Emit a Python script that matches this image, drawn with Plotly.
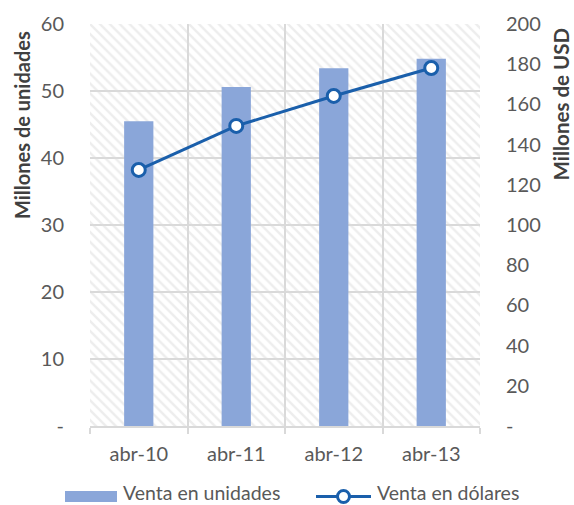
import plotly.graph_objects as go

categories = ["abr-10", "abr-11", "abr-12", "abr-13"]
units = [45.5, 50.6, 53.4, 54.8]
dollars = [127.4, 149.3, 164.2, 178.1]
left_ticks = [0, 10, 20, 30, 40, 50, 60]
left_labels = ["-", "10", "20", "30", "40", "50", "60"]
right_ticks = [0, 20, 40, 60, 80, 100, 120, 140, 160, 180, 200]
right_labels = ["-"] + [str(v) for v in right_ticks[1:]]
series_names = ["Venta en unidades", "Venta en dólares"]

FONT = "Lato"
GRID = "#d9d9d9"
TEXT = "#595959"
TITLE = "#404040"
BAR = "#8aa6d9"
LINE = "#1a5fab"

W, H = 574, 505
ML, MR, MT, MB = 90, 94, 24, 79
PW, PH = W - ML - MR, H - MT - MB


def px(x):
    return (x - ML) / PW


def py(y):
    return (H - MB - y) / PH


xpos = list(range(len(categories)))

fig = go.Figure()
# hatched plot-area background
fig.add_trace(go.Bar(
    x=[(len(categories) - 1) / 2], y=[max(left_ticks)], width=[len(categories)],
    marker=dict(color="rgba(0,0,0,0)", line=dict(width=0),
                pattern=dict(shape="\\", fgcolor="#dcdcdc", bgcolor="rgba(0,0,0,0)",
                             size=7, solidity=0.35)),
    hoverinfo="skip", showlegend=False, xaxis="x", yaxis="y"))
fig.add_trace(go.Bar(
    x=xpos, y=units, width=0.3, name=series_names[0], showlegend=False,
    marker=dict(color=BAR, line=dict(width=0)), xaxis="x", yaxis="y"))
fig.add_trace(go.Scatter(
    x=xpos, y=dollars, name=series_names[1], mode="lines+markers", showlegend=False,
    line=dict(color=LINE, width=3),
    marker=dict(size=13, color="white", line=dict(color=LINE, width=3)),
    xaxis="x", yaxis="y2"))

# custom legend (swatches + labels)
shapes = [
    dict(type="rect", xref="paper", yref="paper", x0=px(65), x1=px(117),
         y0=py(502), y1=py(491), fillcolor=BAR, line=dict(width=0)),
    dict(type="line", xref="paper", yref="paper", x0=px(316), x1=px(371),
         y0=py(496.5), y1=py(496.5), line=dict(color=LINE, width=3)),
    dict(type="circle", xref="paper", yref="paper", x0=px(337.5), x1=px(349.5),
         y0=py(502.5), y1=py(490.5), fillcolor="white", line=dict(color=LINE, width=3)),
]

fig.update_layout(
    width=W, height=H,
    margin=dict(l=ML, r=MR, t=MT, b=MB, autoexpand=False),
    paper_bgcolor="white", plot_bgcolor="white",
    barmode="overlay", showlegend=False,
    font=dict(family=FONT, size=20, color=TEXT),
    xaxis=dict(range=[-0.5, len(categories) - 0.5], tickmode="array",
               tickvals=xpos, ticktext=categories, showgrid=False,
               showline=True, linecolor=GRID, linewidth=1.5,
               ticks="", ticklabelstandoff=9, zeroline=False,
               minor=dict(tickmode="array",
                          tickvals=[i - 0.5 for i in range(len(categories) + 1)],
                          showgrid=True, gridcolor=GRID, gridwidth=1.5,
                          ticks="outside", ticklen=6, tickcolor=GRID, tickwidth=1.5),
               fixedrange=True),
    yaxis=dict(range=[0, 60], tickmode="array", tickvals=left_ticks,
               ticktext=left_labels, showgrid=True, gridcolor=GRID, gridwidth=1.5,
               zeroline=False, showline=False, ticks="", ticklabelstandoff=25),
    yaxis2=dict(range=[0, 200], overlaying="y", side="right", tickmode="array",
                tickvals=right_ticks, ticktext=right_labels, showgrid=False,
                zeroline=False, showline=False, ticks="", ticklabelstandoff=25),
    shapes=shapes,
    annotations=[
        dict(text="<b>Millones de unidades</b>", textangle=-90, xref="paper", yref="paper",
             x=px(22), y=py(29), xanchor="center", yanchor="top", showarrow=False,
             font=dict(size=20, color=TITLE)),
        dict(text="<b>Millones de USD</b>", textangle=-90, xref="paper", yref="paper",
             x=px(561), y=py(26), xanchor="center", yanchor="top", showarrow=False,
             font=dict(size=20.5, color=TITLE)),
        dict(text=series_names[0], xref="paper", yref="paper", x=px(121), y=py(492),
             xanchor="left", yanchor="middle", showarrow=False,
             font=dict(size=19.5, color=TEXT)),
        dict(text=series_names[1], xref="paper", yref="paper", x=px(375), y=py(492),
             xanchor="left", yanchor="middle", showarrow=False,
             font=dict(size=19.5, color=TEXT)),
    ],
)

fig.write_html("out.html")
